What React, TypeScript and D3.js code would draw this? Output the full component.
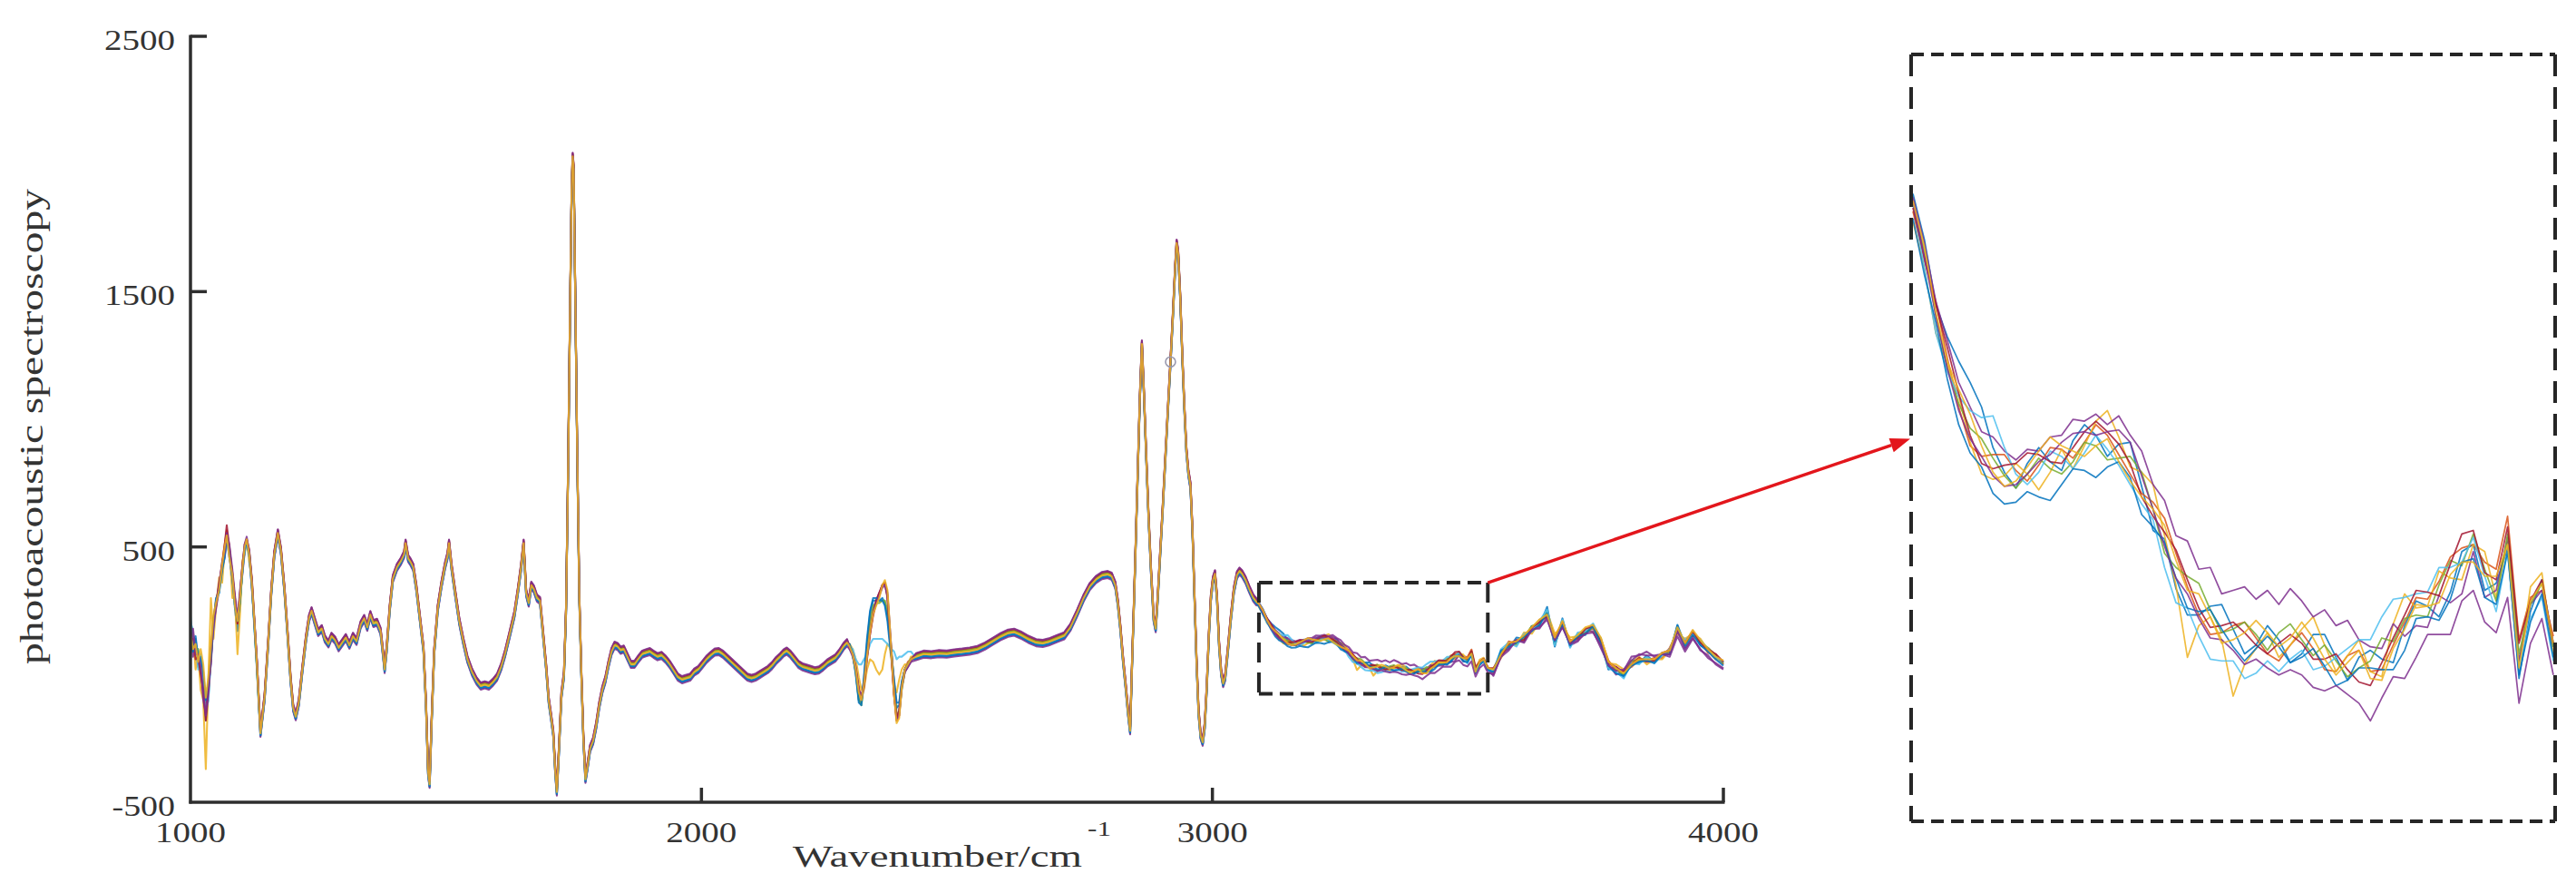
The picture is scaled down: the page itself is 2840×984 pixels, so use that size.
import React, { useEffect, useRef } from 'react';
import * as d3 from 'd3';

type Pt = [number, number];

// mean spectrum: [wavenumber, signal]
const startSpectrum: Pt[] = [
  [1000, 150], [1005, 120], [1010, 100], [1015, 60], [1020, 40], [1025, -40], [1030, -120], [1035, -60],
  [1040, 80], [1045, 200], [1050, 280], [1056, 340], [1062, 420], [1067, 480], [1071, 545], [1076, 480],
  [1082, 380], [1087, 280], [1092, 200], [1097, 300], [1102, 420], [1106, 490], [1110, 520], [1115, 470],
  [1120, 360], [1125, 200], [1130, 40],
];

const midSpectrum: Pt[] = [
  [1137, -230], [1145, -90], [1152, 120], [1158, 320], [1164, 470], [1171, 555], [1177, 485], [1184, 330],
  [1190, 160], [1196, -20], [1201, -130], [1206, -165], [1212, -110], [1219, 20], [1226, 140], [1232, 220],
  [1237, 250], [1243, 210], [1250, 165], [1257, 180], [1263, 140], [1270, 120], [1276, 150], [1283, 135],
  [1290, 105], [1297, 125], [1304, 145], [1311, 115], [1318, 150], [1325, 130], [1333, 195], [1340, 220],
  [1346, 185], [1352, 235], [1358, 200], [1365, 205], [1372, 170], [1377, 80], [1380, 20], [1384, 100],
  [1390, 260], [1396, 375], [1404, 420], [1412, 445], [1418, 470], [1421, 515], [1426, 455], [1431, 440],
  [1436, 420], [1442, 340], [1449, 220], [1456, 100], [1461, -120], [1465, -380], [1468, -430], [1472, -180],
  [1477, 90], [1484, 260], [1491, 350], [1498, 425], [1503, 465], [1506, 515], [1511, 420], [1518, 320],
  [1526, 210], [1534, 130], [1542, 60], [1551, 10], [1560, -25], [1568, -45], [1576, -40], [1584, -45],
  [1592, -30], [1600, -10], [1608, 30], [1616, 85], [1625, 160], [1634, 236], [1641, 330], [1647, 420],
  [1652, 515], [1657, 320], [1662, 280], [1667, 350], [1672, 335], [1678, 300], [1684, 290], [1690, 160],
  [1696, 30], [1701, -100], [1706, -170], [1710, -230], [1714, -380], [1717, -460], [1721, -300], [1726, -80],
  [1731, 0], [1735, 250], [1739, 800], [1743, 1450], [1746, 1900], [1748, 2030], [1750, 1980], [1753, 1500],
  [1757, 850], [1761, 300], [1765, 0], [1769, -250], [1773, -410], [1777, -360], [1782, -290], [1788, -260],
  [1794, -200], [1800, -120], [1806, -60], [1812, -20], [1818, 40], [1824, 90], [1830, 115], [1836, 110],
  [1842, 95], [1848, 100], [1855, 70], [1862, 40], [1869, 40], [1876, 60], [1884, 80], [1891, 85],
  [1899, 90], [1906, 80], [1914, 70], [1922, 75], [1930, 60], [1938, 40], [1946, 15], [1954, -10],
  [1962, -20], [1970, -15], [1978, -10], [1986, 10], [1994, 20], [2002, 40], [2010, 60], [2018, 75],
  [2026, 88], [2034, 90], [2042, 80], [2050, 65], [2058, 50], [2066, 35], [2074, 20], [2082, 5],
  [2090, -10], [2098, -15], [2106, -10], [2114, 0], [2122, 10], [2130, 20], [2138, 35], [2146, 55],
  [2154, 70], [2161, 85], [2167, 92], [2174, 80], [2182, 60], [2190, 40], [2198, 30], [2206, 25],
  [2214, 20], [2222, 15], [2230, 18], [2238, 30], [2246, 45], [2254, 55], [2262, 65], [2270, 85],
  [2278, 110], [2285, 125],
];

const bandSpectrum: Pt[] = [
  [2290, 110], [2296, 80], [2302, 20], [2308, -70], [2313, -100], [2318, -40], [2324, 80], [2330, 180],
  [2336, 240], [2342, 270], [2348, 290], [2354, 320], [2359, 340], [2364, 290], [2368, 170], [2372, 60],
  [2377, -80], [2382, -170], [2387, -140], [2392, -40], [2398, 20], [2404, 40], [2410, 60],
];

const highSpectrum: Pt[] = [
  [2420, 70], [2435, 80], [2450, 78], [2465, 82], [2480, 80], [2495, 85], [2510, 88], [2525, 92],
  [2540, 98], [2555, 112], [2570, 130], [2585, 148], [2600, 162], [2612, 166], [2625, 155], [2640, 138],
  [2655, 125], [2668, 122], [2680, 128], [2695, 140], [2710, 152], [2722, 185], [2735, 240], [2748, 300],
  [2760, 345], [2772, 372], [2784, 388], [2795, 392], [2803, 385], [2810, 350], [2815, 280], [2820, 180],
  [2825, 60], [2830, -40], [2835, -150], [2839, -220], [2843, 60], [2846, 250], [2850, 520], [2854, 800],
  [2858, 1080], [2862, 1295], [2866, 1100], [2870, 880], [2875, 620], [2880, 400], [2885, 220], [2889, 180],
  [2893, 300], [2898, 480], [2903, 660], [2908, 850], [2913, 1040], [2918, 1225], [2923, 1420], [2927, 1590],
  [2930, 1690], [2933, 1650], [2937, 1480], [2941, 1250], [2945, 1050], [2949, 880], [2953, 790], [2957, 740],
  [2961, 560], [2965, 300], [2969, 50], [2973, -150], [2977, -240], [2981, -265], [2985, -200], [2989, -50],
  [2993, 150], [2997, 300], [3001, 370], [3005, 395], [3009, 300], [3013, 120], [3017, 10], [3021, -35],
  [3025, -10], [3030, 90], [3036, 220], [3042, 330], [3048, 390], [3053, 405], [3058, 395], [3065, 370],
  [3072, 335], [3080, 300], [3086, 285],
];

// magnified window 3091-3539 cm-1, 8 cm-1 grid
const zoomWavenumbers = d3.range(3091, 3540, 8);
const zoomMean = [
  275, 245, 214, 188, 166, 148, 136, 129, 125, 122,
  124, 127, 129, 132, 135, 138, 140, 138, 135, 130,
  115, 100, 83, 69, 58, 48, 41, 36, 32, 30,
  29, 28, 28, 27, 26, 23, 19, 16, 15, 14,
  8, 15, 23, 28, 36, 43, 49, 55, 66, 76,
  62, 50, 74, 20, 40, 62, 20,
];

const tailWavenumbers = d3.range(3550, 4001, 15);
const tailMean = [
  15, 80, 115, 125, 145, 180, 200, 235, 130, 205,
  120, 150, 170, 185, 130, 40, 20, 5, 45, 55,
  60, 55, 75, 90, 175, 120, 160, 125, 95, 70,
  45,
];

// per-sample departures from the mean, one row per sample
const sampleColors = ['#0072BD', '#D95319', '#EDB120', '#7E2F8E', '#77AC30', '#4DBEEE', '#A2142F', '#0072BD', '#7E2F8E', '#EDB120'];
const sampleBias = [-10, 7, 2, -14, 5, -5, 12, -7, 14, 0];

const startDeviation = [
  [60, 40, 20, 30, -20, -40, -60, -30, -20, -10, 0, 10, -10, 0, 10, 0, -10, -20, -30, -10, 0, 10, 0, 10, 0, -10, -20],
  [-40, -20, 10, -30, 20, 30, 10, -20, 10, 20, 10, 0, 20, 30, 20, 10, 20, 10, 0, 10, 20, 0, -10, 0, 10, 0, 10],
  [-60, 40, -80, 20, -100, -60, -250, 40, 220, -60, -20, 40, -60, 10, -20, 30, -80, 20, -120, -60, 30, -20, 10, -30, 20, 10, 0],
  [30, -50, 40, -20, 10, -60, -30, 20, -40, 0, -20, -10, 0, -20, -10, -20, 0, 10, 20, 10, -20, -10, 10, 0, -20, 10, 20],
  [-20, 30, -10, 40, -30, 20, 40, 10, 0, 20, -10, 0, 10, -10, 0, 10, 10, 0, 10, -20, 0, 0, -10, 10, 0, 0, -10],
  [80, 10, 30, -40, 40, 10, -20, -40, 10, -20, 10, -20, 0, -10, -20, -10, 0, -10, 10, 0, -10, -10, 0, -10, -10, -20, 0],
  [-10, 20, -40, 10, -40, -20, -60, 0, -20, 10, -10, 20, 10, 30, 40, 20, 10, 20, 0, 20, 10, 20, 10, 20, 10, 10, 10],
  [20, -30, 50, 0, 30, 50, 20, 30, -10, 0, 20, -20, -10, -20, -10, 0, 0, -10, 10, -10, -10, 0, 0, 0, -10, 0, -10],
  [-50, 60, -20, 20, -10, -30, -40, -10, 20, -20, -10, 10, 20, 0, 10, 30, 30, 30, 20, 30, 10, 20, 20, 10, 20, 20, 10],
  [10, -20, 20, -10, 60, 80, 30, 50, 30, 30, 0, -10, 10, 20, 0, -20, 10, -10, 10, 0, 0, 10, 10, 0, 0, 10, 0],
];

const bandDeviation = [
  [0, 0, -10, -30, -10, 20, 40, 60, 50, 20, 0, -20, -60, -60, -20, 20, 50, 40, 20, 10, 0, 0, 0],
  [0, 10, 10, 20, 10, 0, -10, -20, -10, 10, 20, 30, 20, 20, 10, 0, 0, -10, -20, 0, 0, 10, 0],
  [10, 20, 40, 60, 40, -20, -60, -120, -190, -250, -290, -300, -260, -170, -60, 0, 30, 100, 120, 60, 20, 0, 10],
  [-10, -10, 0, 0, 10, 10, 0, 0, 10, 20, 30, 30, 20, 30, 30, 20, 10, 0, -10, -10, -10, -10, -10],
  [0, 0, -10, -30, -20, 0, 20, 30, 30, 10, -10, -30, -50, -40, 0, 30, 40, 20, -10, -20, -10, 0, 0],
  [0, 20, 40, 110, 140, 100, 0, -60, -100, -130, -150, -180, -210, -170, -60, 40, 170, 230, 210, 110, 60, 50, 30],
  [0, 0, 0, 10, 0, -10, -20, -20, 0, 20, 30, 30, 20, 10, 10, 10, 0, 0, 0, 0, 0, 0, 0],
  [10, 0, -20, -40, -20, 30, 60, 70, 60, 30, 0, -30, -70, -80, -40, 10, 60, 60, 30, 10, 0, 0, 0],
  [-10, 0, 10, 10, 10, 0, -10, -10, 0, 10, 20, 20, 10, 20, 30, 30, 10, -10, -20, -10, -10, -10, -10],
  [0, 0, 0, 0, 0, 0, -10, -10, 0, 0, 10, 30, 30, 40, 40, 20, 0, -20, -30, -10, 0, 0, 0],
];

const zoomDeviation = [
  [6, 10, 4, 12, 20, 26, 24, 8, -2, -8, 4, 10, 0, -8, 6, 12, 4, -6, 4, 10, 0, -10, 2, -12, -16, -6, 6, 12, 2, -10,
    -4, 8, 0, -12, -6, 8, 12, 2, -10, 4, 14, 2, -8, 8, 14, 4, -8, 0, 12, 6, -6, 10, 6, -14, 4, 0, 6],
  [-4, -2, 6, 0, -6, -10, -4, 4, 8, 2, -6, 0, 8, 4, -4, 2, 10, 6, -2, -8, -4, 6, 14, 8, 0, -6, -10, -4, 4, 8,
    0, -8, -12, -2, 6, 0, -8, -6, 4, 8, 2, -4, 2, 10, 16, 8, 12, 20, 14, 6, 10, 18, 24, 8, 12, -6, 10],
  [-10, -6, -12, -4, 0, -8, -14, -10, -4, 6, -2, -14, -6, 4, -10, 0, 12, 20, 8, -4, 8, 16, 4, -10, -40, -12, 0, -8, -36, -16,
    -6, 4, -10, -2, 8, 18, 6, -6, 4, 14, 2, -8, 14, 26, 10, 4, 18, 8, -4, 6, 16, 2, 10, -6, 18, 4, 0],
  [4, 8, 6, 10, 8, 12, 10, 14, 10, 8, 12, 8, 14, 12, 18, 14, 16, 12, 20, 14, 20, 16, 24, 18, 26, 20, 28, 18, 24, 28,
    22, 28, 20, 30, 24, 18, 26, 20, 24, 14, 16, 8, 14, 2, 0, -8, 4, -6, -12, 2, -10, 6, 12, -4, 8, -6, 4],
  [0, 4, -2, -6, -4, 0, 6, 2, -4, -8, -2, 4, -4, -10, -6, 2, -2, -8, -4, 2, 8, 2, -6, 0, 6, 12, 4, -4, 2, 8,
    2, -6, 4, 10, 2, -4, 6, 0, -8, -2, 8, 14, 4, 12, 6, -2, 10, 18, 4, 12, 6, 0, 14, 0, 8, -2, 4],
  [0, -6, -12, -8, 0, 10, 18, 26, 12, 0, -8, -4, 6, 0, -10, -4, 4, -2, -8, -14, -10, -4, -14, -20, -12, -18, -24, -20, -16, -24,
    -20, -12, -18, -10, -4, -12, -6, 2, 8, 14, 20, 26, 28, 24, 18, 12, 20, 14, 6, 10, 2, -6, 4, -8, 0, -10, -4],
  [-2, 0, 4, 6, 2, -4, -8, -4, 2, 6, 10, 6, 0, -4, 2, 8, 12, 8, 4, -2, -6, -2, 6, 10, 4, -2, -6, 0, 6, 2,
    -4, -8, -2, 4, 0, -6, -2, 4, -4, -10, -6, 0, 6, 14, 20, 12, 4, 16, 22, 14, 4, 12, 18, 6, 10, 0, 6],
  [-8, -10, -6, -12, -16, -14, -10, -18, -20, -16, -12, -18, -22, -16, -10, -14, -20, -12, -6, -10, -16, -8, 0, -6, -12, -4, 4, -2, -8, -14,
    -6, 2, -4, -12, -8, 0, -6, -14, -10, -2, 4, -4, -12, -6, 4, -2, -10, -4, 6, -2, -10, -2, 4, -12, -2, -8, -2],
  [2, 0, -2, -6, -8, -6, -4, -8, -10, -6, -2, 2, 4, 8, 10, 8, 4, 8, 12, 10, 6, 2, -2, -6, -4, -8, -12, -8, -10, -16,
    -12, -16, -20, -16, -18, -22, -20, -14, -18, -22, -26, -20, -16, -22, -18, -12, -18, -24, -16, -20, -24, -18, -22, -28, -14, -22, -12],
  [2, 6, 0, -2, 4, 8, 2, -6, -10, -4, 2, 8, 14, 6, 0, -6, -2, 4, -6, -12, -6, 2, 10, 4, -2, 6, 0, -10, -4, 2,
    10, 4, -4, 2, 12, 6, -2, -8, 0, 8, -2, -10, 0, 6, 12, 4, 0, 10, 6, -4, 2, 14, 8, -8, 10, -2, 6],
];

const tailDeviation = [
  [0, 10, -15, 20, -5, 10, -10, 30, -20, 15, -10, 5, -15, 10, 0, -20, 10, -15, 5, -10, 15, -5, 10, -10, 20, -5, 10, -10, 5, -5, 0],
  [-10, 0, 15, -5, 10, -5, 15, -10, 20, -5, 15, -10, 5, -5, 10, 15, -5, 10, -15, 5, -5, 10, -10, 15, -10, 10, -5, 5, -10, 10, -5],
  [10, -15, 5, -10, 20, -20, 5, 10, 30, -20, 25, 0, 10, -20, 15, 5, 20, 15, 0, 15, -20, 5, -15, 5, -15, 20, 0, 15, 0, -10, 10],
  [-20, -5, -10, 5, -15, 0, -20, -10, -5, -15, -5, -20, 0, -15, -25, 0, -20, 10, 25, 20, 30, 15, 5, -20, -25, -30, -20, -25, -30, -25, -20],
  [5, 5, 0, -5, 0, 10, 0, 15, -10, 5, 0, 10, -5, 0, -5, -10, 0, -5, 10, 0, 5, -5, 5, 0, 10, 0, 5, 0, 10, 5, 0],
  [0, 20, 10, -15, 15, -10, 10, 20, -15, 10, -15, 15, 0, 15, 10, -15, -10, -20, 0, -15, 10, -10, 0, 10, -5, 15, 0, 10, 5, 0, 5],
  [10, -5, 5, 10, -10, 5, 5, -5, 10, 0, 5, -5, 10, 5, 0, 5, 10, 5, -5, 10, -10, 0, 10, 5, 0, 5, 10, 0, 5, 10, 5],
  [-5, 15, -5, 0, 5, -10, -5, 5, 0, -10, -5, 0, -10, 5, -10, -5, -15, -10, -10, -5, -5, -10, 5, -10, 15, -15, -5, -10, -5, -10, -10],
  [-15, -10, -20, 10, -20, -5, -15, -20, 5, -20, 0, -15, -10, -20, -15, -5, -5, 15, 10, 25, 15, 20, 5, -10, -5, -20, -15, -30, -20, -30, -25],
  [5, 0, 10, 5, 10, 5, 15, 0, 15, 5, 10, 5, 15, 10, 15, 10, 5, 0, -5, 5, 0, 5, 10, 5, 10, 5, 15, 10, 5, 0, 10],
];

const xTicks = [1000, 2000, 3000, 4000];
const yTicks = [2500, 1500, 500, -500];
const zoomWindow = [3091, 3539];
const zoomRange = [-75, 360];
const markerPoint: Pt = [2918, 1225];

const FONT = "'Liberation Serif', 'Times New Roman', serif";

function buildSample(s: number): Pt[] {
  const pts: Pt[] = [];
  startSpectrum.forEach(([w, v], i) => pts.push([w, v + (startDeviation[s][i] ?? 0)]));
  midSpectrum.forEach(([w, v]) => pts.push([w, v + sampleBias[s]]));
  bandSpectrum.forEach(([w, v], i) => pts.push([w, v + (bandDeviation[s][i] ?? 0)]));
  highSpectrum.forEach(([w, v]) => pts.push([w, v + sampleBias[s]]));
  zoomWavenumbers.forEach((w, i) => pts.push([w, zoomMean[i] + (zoomDeviation[s][i] ?? 0)]));
  tailWavenumbers.forEach((w, i) => pts.push([w, tailMean[i] + (tailDeviation[s][i] ?? 0)]));
  return pts;
}

// the original labels are drawn wide, so stretch them to the measured width
function labelWidth(t: string) {
  return t.replace('-', '').length * 19.5 + (t.startsWith('-') ? 11 : 0);
}

const draw = (el: SVGSVGElement) => {
  const svg = d3.select(el);
  svg.selectAll('*').remove();

  const x = d3.scaleLinear().domain([1000, 4000]).range([210, 1900]);
  const y = d3.scaleLinear().domain([-500, 2500]).range([884, 40]);

  const samples = sampleColors.map((_, s) => buildSample(s));

  /**
  * Spectra
  **/
  const line = d3.line<Pt>().x(d => x(d[0])).y(d => y(d[1]));
  const plot = svg.append('g');
  samples.forEach((pts, s) => {
    plot.append('path')
      .attr('d', line(pts))
      .attr('fill', 'none')
      .attr('stroke', sampleColors[s])
      .attr('stroke-width', 2.1)
      .attr('stroke-linejoin', 'round')
      .attr('stroke-opacity', 0.85);
  });

  svg.append('circle')
    .attr('cx', x(markerPoint[0]))
    .attr('cy', y(markerPoint[1]))
    .attr('r', 5.5)
    .attr('fill', 'none')
    .attr('stroke', '#9a9ab0')
    .attr('stroke-width', 1.6);

  /**
  * Axes
  **/
  const axis = svg.append('g').attr('stroke', '#2e2e2e').attr('stroke-width', 3.5);
  axis.append('line').attr('x1', x(1000)).attr('x2', x(1000)).attr('y1', y(2500) - 1.5).attr('y2', y(-500) + 1.5);
  axis.append('line').attr('x1', x(1000) - 1.5).attr('x2', x(4000) + 1.5).attr('y1', y(-500)).attr('y2', y(-500));
  yTicks.slice(0, -1).forEach(t => {
    axis.append('line').attr('x1', x(1000)).attr('x2', x(1000) + 18).attr('y1', y(t)).attr('y2', y(t));
  });
  xTicks.slice(1).forEach(t => {
    axis.append('line').attr('x1', x(t)).attr('x2', x(t)).attr('y1', y(-500)).attr('y2', y(-500) - 16);
  });

  const labels = svg.append('g').attr('font-family', FONT).attr('fill', '#333').attr('font-size', 32);
  yTicks.forEach(t => {
    labels.append('text')
      .attr('x', 193).attr('y', y(t) + 15)
      .attr('text-anchor', 'end')
      .attr('textLength', labelWidth(String(t)))
      .attr('lengthAdjust', 'spacingAndGlyphs')
      .text(String(t));
  });
  xTicks.forEach(t => {
    labels.append('text')
      .attr('x', x(t)).attr('y', 928)
      .attr('text-anchor', 'middle')
      .attr('textLength', labelWidth(String(t)))
      .attr('lengthAdjust', 'spacingAndGlyphs')
      .text(String(t));
  });

  labels.append('text')
    .attr('x', 874).attr('y', 955)
    .attr('font-size', 33)
    .attr('textLength', 319)
    .attr('lengthAdjust', 'spacingAndGlyphs')
    .text('Wavenumber/cm');
  labels.append('text')
    .attr('x', 1199).attr('y', 921)
    .attr('font-size', 24)
    .attr('textLength', 26)
    .attr('lengthAdjust', 'spacingAndGlyphs')
    .text('-1');

  labels.append('text')
    .attr('transform', 'translate(47,470) rotate(-90)')
    .attr('text-anchor', 'middle')
    .attr('font-size', 36)
    .attr('textLength', 524)
    .attr('lengthAdjust', 'spacingAndGlyphs')
    .text('photoacoustic spectroscopy');

  /**
  * Dashed boxes
  **/
  const dashedBox = (x0: number, y0: number, x1: number, y1: number, hDash: string, vDash: string) => {
    const g = svg.append('g').attr('stroke', '#262626').attr('stroke-width', 4).attr('fill', 'none');
    g.append('line').attr('x1', x0).attr('x2', x1).attr('y1', y0).attr('y2', y0).attr('stroke-dasharray', hDash);
    g.append('line').attr('x1', x0).attr('x2', x1).attr('y1', y1).attr('y2', y1).attr('stroke-dasharray', hDash);
    g.append('line').attr('x1', x0).attr('x2', x0).attr('y1', y0).attr('y2', y1).attr('stroke-dasharray', vDash);
    g.append('line').attr('x1', x1).attr('x2', x1).attr('y1', y0).attr('y2', y1).attr('stroke-dasharray', vDash);
  };

  const bx0 = x(zoomWindow[0]), bx1 = x(zoomWindow[1]);
  const by0 = y(zoomRange[1]), by1 = y(zoomRange[0]);
  dashedBox(bx0, by0, bx1, by1, '15 8', '22 11');

  /**
  * Magnified panel
  **/
  const panel = { left: 2107, right: 2817, top: 60, bottom: 905 };
  const zx = d3.scaleLinear().domain(zoomWindow).range([panel.left + 2, panel.right - 2]);
  const zy = d3.scaleLinear().domain(zoomRange).range([panel.bottom, panel.top]);
  const zline = d3.line<Pt>().x(d => zx(d[0])).y(d => zy(d[1]));
  const zg = svg.append('g');
  samples.forEach((pts, s) => {
    const inside = pts.filter(d => d[0] >= zoomWindow[0] && d[0] <= zoomWindow[1]);
    zg.append('path')
      .attr('d', zline(inside))
      .attr('fill', 'none')
      .attr('stroke', sampleColors[s])
      .attr('stroke-width', 1.7)
      .attr('stroke-linejoin', 'round')
      .attr('stroke-opacity', 0.85);
  });
  dashedBox(panel.left, panel.top, panel.right, panel.bottom, '14 8', '24 12');

  /**
  * Arrow
  **/
  const ax0 = bx1, ay0 = by0;
  const ax1 = panel.left - 1, ay1 = (panel.top + panel.bottom) / 2 + 1;
  const len = Math.hypot(ax1 - ax0, ay1 - ay0);
  const ux = (ax1 - ax0) / len, uy = (ay1 - ay0) / len;
  const head = 22, half = 8;
  const hx = ax1 - ux * head, hy = ay1 - uy * head;
  svg.append('line')
    .attr('x1', ax0).attr('y1', ay0).attr('x2', hx).attr('y2', hy)
    .attr('stroke', '#e3161c').attr('stroke-width', 3.5);
  svg.append('polygon')
    .attr('points', [
      [ax1, ay1],
      [hx - uy * half, hy + ux * half],
      [hx + uy * half, hy - ux * half],
    ].map(p => p.join(',')).join(' '))
    .attr('fill', '#e3161c');
};

export default function App() {
  const ref = useRef<SVGSVGElement>(null);

  useEffect(() => {
    if (ref.current) draw(ref.current);
  }, []);

  return (
    <svg
      ref={ref}
      width={2840}
      height={984}
      style={{ position: 'absolute', left: 0, top: 0, background: '#fff', display: 'block' }}
    />
  );
}
